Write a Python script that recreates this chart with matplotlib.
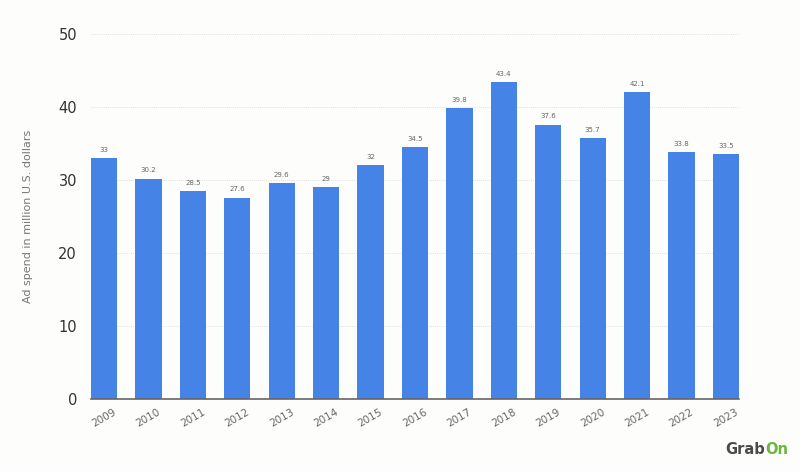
import matplotlib.pyplot as plt

years = ['2009', '2010', '2011', '2012', '2013', '2014', '2015', '2016',
         '2017', '2018', '2019', '2020', '2021', '2022', '2023']
ad_spend = [33, 30.2, 28.5, 27.6, 29.6, 29, 32, 34.5, 39.8, 43.4, 37.6,
            35.7, 42.1, 33.8, 33.5]
labels = ['33', '30.2', '28.5', '27.6', '29.6', '29', '32', '34.5', '39.8',
          '43.4', '37.6', '35.7', '42.1', '33.8', '33.5']
yticks = [0, 10, 20, 30, 40, 50]

bg = '#fdfdfb'
fig = plt.figure(figsize=(8, 4.71), dpi=100, facecolor=bg)
ax = fig.add_axes([0.11375, 0.1529, 0.81, 0.7749], facecolor=bg)

x = range(len(years))
bars = ax.bar(x, ad_spend, width=0.59, color='#4683e6', zorder=3)

for b, lab in zip(bars, labels):
    ax.text(b.get_x() + b.get_width() / 2, b.get_height() + 0.7, lab,
            ha='center', va='bottom', fontsize=5, color='#666666')

ax.set_xlim(-0.295, len(years) - 1 + 0.295)
ax.set_ylim(0, 50)
ax.set_yticks(yticks)
ax.set_yticklabels([str(t) for t in yticks], fontsize=10.5, color='#333333')
ax.set_xticks(list(x))
ax.set_xticklabels(years, rotation=30, fontsize=7.5, color='#666666',
                   ha='center')
ax.tick_params(axis='both', length=0)
ax.tick_params(axis='y', pad=10)
ax.tick_params(axis='x', pad=6)

ax.grid(axis='y', color='#d8d8d8', linestyle=(0, (1, 1.5)), linewidth=0.6,
        zorder=0)
for s in ['top', 'right', 'left']:
    ax.spines[s].set_visible(False)
ax.spines['bottom'].set_color('#666666')
ax.spines['bottom'].set_linewidth(1.2)
ax.spines['bottom'].set_zorder(4)

fig.text(0.035, 0.54, 'Ad spend in million U.S. dollars', rotation=90,
         ha='center', va='center', fontsize=8, color='#777777')

# GrabOn logo text
fig.text(0.956, 0.045, 'Grab', fontsize=10.5, fontweight='bold',
         color='#4a4a4a', ha='right', va='center')
fig.text(0.956, 0.045, 'On', fontsize=10.5, fontweight='bold',
         color='#6cb33f', ha='left', va='center')

plt.savefig('out.png', dpi=100, facecolor=bg)
